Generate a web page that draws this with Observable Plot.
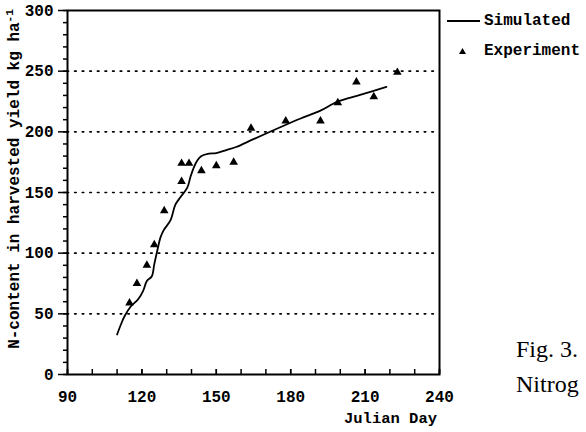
<!DOCTYPE html>
<html><head><meta charset="utf-8">
<script src="https://cdn.jsdelivr.net/npm/d3@7"></script>
<script src="https://cdn.jsdelivr.net/npm/@observablehq/plot@0.6"></script>
<style>
html,body{margin:0;padding:0;background:#fff;overflow:hidden;}
#wrap{position:relative;width:586px;height:432px;overflow:hidden;background:#fff;}
#wrap > svg{position:absolute;left:0;top:0;}
.mono{font-family:"Liberation Mono",monospace;font-weight:bold;color:#000;}
.abs{position:absolute;white-space:nowrap;}
.serif{font-family:"Liberation Serif","Times New Roman",serif;color:#000;font-size:24px;}
</style></head><body>
<div id="wrap"></div>
<script>
// Simulated curve (Julian day, N kg/ha)
const simDay = [110, 111.5, 113, 115.5, 118.5, 120.5, 122, 124, 125, 126.2, 127.5, 128.8, 131.5, 133.5, 135.5, 138.3, 139.6, 141, 142.4, 144, 147, 150, 154, 158, 165, 176, 184, 192, 199, 208, 218.6];
const simN   = [33, 41, 48, 56, 62, 69, 77, 81, 91, 102, 113, 119, 127, 140, 146, 154, 163, 171, 176.5, 180, 182, 182.5, 185, 187.5, 194, 204, 211, 217.5, 225, 230.5, 237];
// Experiment observations
const expDay = [115, 118, 122, 125, 129, 136, 136, 139, 144, 150, 157, 164, 178, 192, 199, 206.5, 213.5, 223];
const expN   = [59, 75, 90, 107, 135, 159, 174, 174, 168, 172, 175, 203, 209, 209, 224, 241, 229, 249];
// Axis ticks
const xTicks = [90, 120, 150, 180, 210, 240];
const xMinor = [90, 100, 110, 120, 130, 140, 150, 160, 170, 180, 190, 200, 210, 220, 230, 240];
const yTicks = [0, 50, 100, 150, 200, 250, 300];
const yMinor = d3.range(0, 301, 10);
const gridY = [50, 100, 150, 200, 250];
const xLabel = "Julian Day";
const legendNames = ["Simulated", "Experiment"];

const sim = simDay.map((d, i) => ({day: d, n: simN[i]}));
const exp = expDay.map((d, i) => ({day: d, n: expN[i]}));

const chart = Plot.plot({
  width: 586,
  height: 432,
  marginLeft: 67,
  marginRight: 147,
  marginTop: 10,
  marginBottom: 58,
  style: {fontFamily: "'Liberation Mono', monospace", fontSize: "16px", fontWeight: "bold", background: "transparent", color: "#000"},
  x: {domain: [90, 240]},
  y: {domain: [0, 300]},
  marks: [
    Plot.ruleY(gridY, {stroke: "#000", strokeWidth: 1.6, strokeDasharray: "1.6,6", strokeLinecap: "round"}),
    Plot.axisY(yMinor, {tickSize: 4, tickFormat: () => "", label: null, strokeWidth: 1.5}),
    Plot.axisY(yTicks, {tickSize: 9, tickPadding: 5, label: null, strokeWidth: 1.5}),
    Plot.axisX(xMinor, {tickSize: -5, tickFormat: () => "", label: null, strokeWidth: 1.5}),
    Plot.axisX(xTicks, {tickSize: -5, tickPadding: 21, strokeWidth: 1.5, label: null}),
    Plot.frame({stroke: "#000", strokeWidth: 2}),
    Plot.line(sim, {x: "day", y: "n", stroke: "#000", strokeWidth: 1.8, curve: "catmull-rom"}),
    Plot.dot(exp, {x: "day", y: "n", symbol: "triangle", r: 3.2, fill: "#000", stroke: "none"})
  ]
});
const wrap = document.getElementById("wrap");
wrap.appendChild(chart);

// Y axis title
const yl = document.createElement("div");
yl.className = "abs mono";
yl.style.cssText += "left:14px;top:179px;font-size:16px;transform:translate(-50%,-50%) rotate(-90deg);";
yl.innerHTML = "N-content in harvested yield kg ha<sup style='font-size:11px;vertical-align:6px'>-1</sup>";
wrap.appendChild(yl);

// X axis title
const xl = document.createElement("div");
xl.className = "abs mono";
xl.style.cssText += "right:149px;top:410px;font-size:15.5px;";
xl.textContent = xLabel;
wrap.appendChild(xl);

// Legend
const lg = document.createElement("div");
lg.className = "abs mono";
lg.style.cssText += "left:446px;top:8px;font-size:16px;line-height:30px;";
lg.innerHTML =
  `<div style="display:flex;align-items:center;height:25px"><svg width="36" height="10" style="margin-right:2px"><line x1="1" y1="5" x2="34" y2="5" stroke="#000" stroke-width="1.8"/></svg><span>${legendNames[0]}</span></div>` +
  `<div style="display:flex;align-items:center;height:35px"><svg width="36" height="10" style="margin-right:2px"><path d="M16.5,2 L20,8 L13,8 Z" fill="#000"/></svg><span>${legendNames[1]}</span></div>`;
wrap.appendChild(lg);

// Figure caption fragment (as visible at the page edge)
const f1 = document.createElement("div");
f1.className = "abs serif";
f1.style.cssText += "left:516px;top:336px;";
f1.textContent = "Fig. 3.";
wrap.appendChild(f1);
const f2 = document.createElement("div");
f2.className = "abs serif";
f2.style.cssText += "left:516px;top:371px;";
f2.textContent = "Nitrog";
wrap.appendChild(f2);
</script>
</body></html>
